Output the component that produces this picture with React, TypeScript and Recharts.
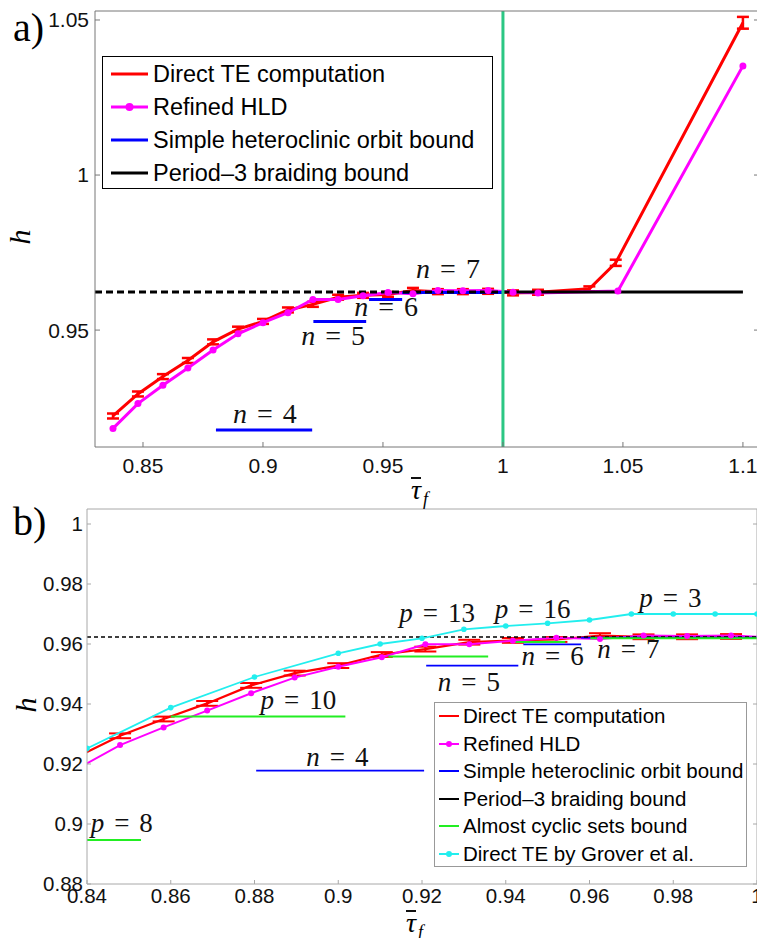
import {
  ErrorBar,
  Line,
  LineChart,
  ReferenceDot,
  ReferenceLine,
  XAxis,
  YAxis,
} from 'recharts'

// Direct TE computation (red, with error bars)
const tauDirect = [
  0.8375, 0.8479, 0.8583, 0.8687, 0.8792, 0.8896, 0.9, 0.9104, 0.9208, 0.9313, 0.9417,
  0.9521, 0.9625, 0.9729, 0.9833, 0.9938, 1.0042, 1.0146, 1.036, 1.047, 1.1,
]
const hDirect = [
  0.9223, 0.9294, 0.935, 0.9402, 0.9462, 0.9503, 0.9528, 0.9565, 0.9583, 0.9606, 0.9612,
  0.9615, 0.9628, 0.9624, 0.9624, 0.9625, 0.962, 0.9622, 0.9633, 0.9717, 1.0491,
]
const errDirect = [
  0.0008, 0.0008, 0.0008, 0.0008, 0.0008, 0.0008, 0.0008, 0.0008, 0.0008, 0.0008, 0.0008,
  0.0008, 0.0008, 0.0008, 0.0008, 0.0008, 0.0008, 0.0008, 0.0008, 0.001, 0.0019,
]

// Refined HLD (magenta)
const tauHld = [
  0.8375, 0.8479, 0.8583, 0.8687, 0.8792, 0.8896, 0.9, 0.9104, 0.9208, 0.9313, 0.9417,
  0.9521, 0.9625, 0.9729, 0.9833, 0.9938, 1.0042, 1.0146, 1.0479, 1.1,
]
const hHld = [
  0.9183, 0.9263, 0.9322, 0.9378, 0.9436, 0.9488, 0.9524, 0.9556, 0.9599, 0.9599, 0.9611,
  0.9621, 0.9617, 0.9628, 0.9627, 0.9628, 0.9622, 0.962, 0.9626, 1.0352,
]

// Direct TE by Grover et al. (cyan, panel b only)
const tauGrover = [0.84, 0.86, 0.88, 0.9, 0.91, 0.92, 0.93, 0.94, 0.95, 0.96, 0.97, 0.98, 0.99, 1.0]
const hGrover = [
  0.9252, 0.9388, 0.949, 0.9569, 0.96, 0.9619, 0.9649, 0.966, 0.9669, 0.968, 0.97, 0.97, 0.97, 0.97,
]

// Simple heteroclinic orbit bound (blue segments)
const orbitN = [4, 5, 6, 7]
const orbitFrom = [0.8804, 0.921, 0.9442, 0.958]
const orbitTo = [0.9205, 0.943, 0.958, 1.0]
const orbitH = [0.9178, 0.9528, 0.9599, 0.9621]

// Almost cyclic sets bound (green segments)
const cyclicP = [8, 10, 13, 16, 3]
const cyclicFrom = [0.84, 0.86, 0.912, 0.9411, 0.9602]
const cyclicTo = [0.8529, 0.9017, 0.9358, 0.9542, 1.0]
const cyclicH = [0.8947, 0.9358, 0.9558, 0.9607, 0.9619]

// Period-3 braiding bound
const braidH = 0.9623

const ticksXa = [0.85, 0.9, 0.95, 1, 1.05, 1.1]
const ticksYa = [0.95, 1, 1.05]
const ticksXb = [0.84, 0.86, 0.88, 0.9, 0.92, 0.94, 0.96, 0.98, 1]
const ticksYb = [0.88, 0.9, 0.92, 0.94, 0.96, 0.98, 1]

// annotation anchors (data coords)
const labelsA = [
  { v: 'n', k: '4', x: 0.9008, y: 0.9229 },
  { v: 'n', k: '5', x: 0.9292, y: 0.9481 },
  { v: 'n', k: '6', x: 0.9513, y: 0.9574 },
  { v: 'n', k: '7', x: 0.9771, y: 0.9697 },
]
const labelsB = [
  { v: 'n', k: '4', x: 0.8998, y: 0.9223 },
  { v: 'n', k: '5', x: 0.9312, y: 0.9473 },
  { v: 'n', k: '6', x: 0.9512, y: 0.956 },
  { v: 'n', k: '7', x: 0.9693, y: 0.9583 },
  { v: 'p', k: '8', x: 0.8483, y: 0.9003 },
  { v: 'p', k: '10', x: 0.8905, y: 0.9413 },
  { v: 'p', k: '13', x: 0.9236, y: 0.9702 },
  { v: 'p', k: '16', x: 0.9464, y: 0.9718 },
  { v: 'p', k: '3', x: 0.9793, y: 0.9752 },
]

const RED = '#ff0000'
const MAGENTA = '#ff00ff'
const BLUE = '#0000ff'
const GREEN = '#22ee22'
const CYAN = '#22eeee'
const SANS = '"Liberation Sans", Arial, sans-serif'
const SERIF = '"Liberation Serif", "Times New Roman", serif'

const XA: [number, number] = [0.83, 1.1067]
const YA: [number, number] = [0.9123, 1.0529]
const XB: [number, number] = [0.84, 1.0]
const YB: [number, number] = [0.88, 1.005]

const direct = tauDirect.map((x, i) => ({ x, h: hDirect[i], err: errDirect[i] }))
const directInB = direct.filter((d) => d.x >= XB[0] && d.x <= XB[1])
const hld = tauHld.map((x, i) => ({ x, h: hHld[i] }))
const grover = tauGrover.map((x, i) => ({ x, h: hGrover[i] }))
const seg = (a: number, b: number, h: number) => [
  { x: a, h },
  { x: b, h },
]

const fmt = (v: number) => String(Number(v.toFixed(3)))
const blank = () => ''

function MathLabel({ cx, cy, v, k, size }: { cx?: number; cy?: number; v: string; k: string; size: number }) {
  if (cx == null || cy == null) return null
  return (
    <text x={cx} y={cy + size * 0.33} textAnchor="middle" fontFamily={SERIF} fontSize={size} fill="#111">
      <tspan fontStyle="italic">{v}</tspan>
      <tspan dx={10}>=</tspan>
      <tspan dx={10}>{k}</tspan>
    </text>
  )
}

type Row = { label: string; color: string; dot?: boolean }

function LegendBox(props: {
  left: number
  top: number
  width: number
  height: number
  rows: Row[]
  fontSize: number
  first: number
  step: number
  sampleX: number
  sampleW: number
  textX: number
  border: string
  lw: number
}) {
  const { left, top, width, height, rows, fontSize, first, step, sampleX, sampleW, textX, border, lw } = props
  return (
    <div
      style={{
        position: 'absolute',
        left,
        top,
        width,
        height,
        border: `1px solid ${border}`,
        background: '#fff',
        boxSizing: 'border-box',
        fontFamily: SANS,
        fontSize,
        color: '#000',
      }}
    >
      {rows.map((r, i) => (
        <div key={r.label} style={{ position: 'absolute', left: 0, top: first + i * step - 20, height: 40, width: '100%' }}>
          <svg style={{ position: 'absolute', left: sampleX, top: 0 }} width={sampleW} height={40}>
            <line x1={0} x2={sampleW} y1={20} y2={20} stroke={r.color} strokeWidth={lw} />
            {r.dot && <circle cx={sampleW / 2} cy={20} r={lw + 1} fill={r.color} />}
          </svg>
          <div style={{ position: 'absolute', left: textX, top: 0, lineHeight: '40px', whiteSpace: 'nowrap' }}>{r.label}</div>
        </div>
      ))}
    </div>
  )
}

function TauLabel({ left, top }: { left: number; top: number }) {
  return (
    <div style={{ position: 'absolute', left, top, fontFamily: SERIF, fontStyle: 'italic', fontSize: 28, lineHeight: '28px' }}>
      <span style={{ display: 'inline-block', borderTop: '2px solid #111', lineHeight: '22px' }}>τ</span>
      <span style={{ fontSize: 18, position: 'relative', top: 6, left: 2 }}>f</span>
    </div>
  )
}

function HLabel({ left, top }: { left: number; top: number }) {
  return (
    <div
      style={{
        position: 'absolute',
        left,
        top,
        fontFamily: SERIF,
        fontStyle: 'italic',
        fontSize: 30,
        lineHeight: '30px',
        transform: 'rotate(-90deg)',
      }}
    >
      h
    </div>
  )
}

function PanelA() {
  const axisColor = '#777'
  const tickStyle = { fontSize: 21, fill: '#111', fontFamily: SANS }
  return (
    <LineChart width={800} height={490} margin={{ top: 10, right: 40, left: 0, bottom: 0 }}>
      <XAxis
        type="number"
        dataKey="x"
        domain={XA}
        allowDataOverflow
        ticks={ticksXa}
        tickFormatter={fmt}
        tick={tickStyle}
        tickSize={-5}
        tickMargin={16}
        height={43}
        stroke={axisColor}
      />
      <XAxis
        xAxisId="top"
        orientation="top"
        type="number"
        domain={XA}
        allowDataOverflow
        ticks={ticksXa}
        tickFormatter={blank}
        tickSize={-5}
        height={1}
        stroke={axisColor}
      />
      <YAxis
        type="number"
        domain={YA}
        allowDataOverflow
        ticks={ticksYa}
        tickFormatter={fmt}
        tick={tickStyle}
        tickSize={-5}
        tickMargin={11}
        width={95}
        stroke={axisColor}
      />
      <YAxis
        yAxisId="right"
        orientation="right"
        type="number"
        domain={YA}
        allowDataOverflow
        ticks={ticksYa}
        tickFormatter={blank}
        tickSize={-5}
        width={1}
        stroke={axisColor}
      />
      <Line data={direct} dataKey="h" stroke={RED} strokeWidth={3} dot={false} activeDot={false} isAnimationActive={false}>
        <ErrorBar dataKey="err" width={6} stroke={RED} strokeWidth={2.5} direction="y" isAnimationActive={false} />
      </Line>
      <Line
        data={hld}
        dataKey="h"
        stroke={MAGENTA}
        strokeWidth={3}
        dot={{ r: 3.5, fill: MAGENTA, stroke: MAGENTA, strokeWidth: 0 }}
        activeDot={false}
        isAnimationActive={false}
      />
      {orbitN.map((n, i) => (
        <Line
          key={`o${n}`}
          data={seg(orbitFrom[i], orbitTo[i], orbitH[i])}
          dataKey="h"
          stroke={BLUE}
          strokeWidth={3}
          dot={false}
          activeDot={false}
          isAnimationActive={false}
        />
      ))}
      <Line
        data={seg(0.83, 1, braidH)}
        dataKey="h"
        stroke="#000"
        strokeWidth={3}
        strokeDasharray="7 4"
        dot={false}
        activeDot={false}
        isAnimationActive={false}
      />
      <Line
        data={seg(1, 1.1, braidH)}
        dataKey="h"
        stroke="#000"
        strokeWidth={3}
        dot={false}
        activeDot={false}
        isAnimationActive={false}
      />
      <ReferenceLine x={1} stroke="#2bc784" strokeWidth={3} />
      {labelsA.map((l) => (
        <ReferenceDot
          key={l.v + l.k}
          x={l.x}
          y={l.y}
          r={1}
          shape={(p: any) => <MathLabel cx={p.cx} cy={p.cy} v={l.v} k={l.k} size={28} />}
        />
      ))}
    </LineChart>
  )
}

function PanelB() {
  const axisColor = '#a8a8a8'
  const tickStyle = { fontSize: 20.5, fill: '#111', fontFamily: SANS }
  return (
    <LineChart width={770} height={440} margin={{ top: 28, right: 12, left: 0, bottom: 0 }}>
      <XAxis
        type="number"
        dataKey="x"
        domain={XB}
        allowDataOverflow
        ticks={ticksXb}
        tickFormatter={fmt}
        tick={tickStyle}
        tickSize={-4}
        tickMargin={8}
        height={36}
        stroke={axisColor}
      />
      <XAxis
        xAxisId="top"
        orientation="top"
        type="number"
        domain={XB}
        allowDataOverflow
        ticks={ticksXb}
        tickFormatter={blank}
        tickSize={-4}
        height={1}
        stroke={axisColor}
      />
      <YAxis
        type="number"
        domain={YB}
        allowDataOverflow
        ticks={ticksYb}
        tickFormatter={fmt}
        tick={tickStyle}
        tickSize={-4}
        tickMargin={8}
        width={87}
        stroke={axisColor}
      />
      <YAxis
        yAxisId="right"
        orientation="right"
        type="number"
        domain={YB}
        allowDataOverflow
        ticks={ticksYb}
        tickFormatter={blank}
        tickSize={-4}
        width={1}
        stroke={axisColor}
      />
      <Line data={direct} dataKey="h" stroke={RED} strokeWidth={2.2} dot={false} activeDot={false} isAnimationActive={false} />
      {/* error bars only for points inside the visible range */}
      <Line data={directInB} dataKey="h" stroke="none" dot={false} activeDot={false} isAnimationActive={false}>
        <ErrorBar dataKey="err" width={11} stroke={RED} strokeWidth={2} direction="y" isAnimationActive={false} />
      </Line>
      <Line
        data={hld}
        dataKey="h"
        stroke={MAGENTA}
        strokeWidth={2}
        dot={{ r: 3, fill: MAGENTA, stroke: MAGENTA, strokeWidth: 0 }}
        activeDot={false}
        isAnimationActive={false}
      />
      {orbitN.map((n, i) => (
        <Line
          key={`o${n}`}
          data={seg(orbitFrom[i], orbitTo[i], orbitH[i])}
          dataKey="h"
          stroke={BLUE}
          strokeWidth={1.8}
          dot={false}
          activeDot={false}
          isAnimationActive={false}
        />
      ))}
      <Line
        data={seg(0.84, 1, braidH)}
        dataKey="h"
        stroke="#000"
        strokeWidth={1.5}
        strokeDasharray="4 3"
        dot={false}
        activeDot={false}
        isAnimationActive={false}
      />
      {cyclicP.map((p, i) => (
        <Line
          key={`c${p}`}
          data={seg(cyclicFrom[i], cyclicTo[i], cyclicH[i])}
          dataKey="h"
          stroke={GREEN}
          strokeWidth={2}
          dot={false}
          activeDot={false}
          isAnimationActive={false}
        />
      ))}
      <Line
        data={grover}
        dataKey="h"
        stroke={CYAN}
        strokeWidth={1.8}
        dot={{ r: 2.8, fill: CYAN, stroke: CYAN, strokeWidth: 0 }}
        activeDot={false}
        isAnimationActive={false}
      />
      {labelsB.map((l) => (
        <ReferenceDot
          key={l.v + l.k}
          x={l.x}
          y={l.y}
          r={1}
          shape={(p: any) => <MathLabel cx={p.cx} cy={p.cy} v={l.v} k={l.k} size={27} />}
        />
      ))}
    </LineChart>
  )
}

const legendA: Row[] = [
  { label: 'Direct TE computation', color: RED },
  { label: 'Refined HLD', color: MAGENTA, dot: true },
  { label: 'Simple heteroclinic orbit bound', color: BLUE },
  { label: 'Period\u20133 braiding bound', color: '#000' },
]
const legendB: Row[] = [
  { label: 'Direct TE computation', color: RED },
  { label: 'Refined HLD', color: MAGENTA, dot: true },
  { label: 'Simple heteroclinic orbit bound', color: BLUE },
  { label: 'Period\u20133 braiding bound', color: '#000' },
  { label: 'Almost cyclic sets bound', color: GREEN },
  { label: 'Direct TE by Grover et al.', color: CYAN, dot: true },
]

export default function App() {
  return (
    <div style={{ position: 'absolute', left: 0, top: 0, width: 757, height: 938, overflow: 'hidden', background: '#fff' }}>
      <div style={{ position: 'absolute', left: 0, top: 0 }}>
        <PanelA />
      </div>
      <div style={{ position: 'absolute', left: 0, top: 480 }}>
        <PanelB />
      </div>
      <div style={{ position: 'absolute', left: 13, top: 8, fontFamily: SERIF, fontSize: 40, lineHeight: '40px' }}>a)</div>
      <div style={{ position: 'absolute', left: 13, top: 502, fontFamily: SERIF, fontSize: 40, lineHeight: '40px' }}>b)</div>
      <HLabel left={12} top={222} />
      <HLabel left={18} top={690} />
      <TauLabel left={411} top={476} />
      <TauLabel left={406} top={909} />
      <LegendBox
        left={102}
        top={56}
        width={391}
        height={133}
        rows={legendA}
        fontSize={23.5}
        first={17}
        step={33}
        sampleX={8}
        sampleW={37}
        textX={50}
        border="#000"
        lw={3}
      />
      <LegendBox
        left={434}
        top={702}
        width={313}
        height={165}
        rows={legendB}
        fontSize={20.5}
        first={13}
        step={27.6}
        sampleX={4}
        sampleW={20}
        textX={28}
        border="#999"
        lw={2}
      />
    </div>
  )
}
